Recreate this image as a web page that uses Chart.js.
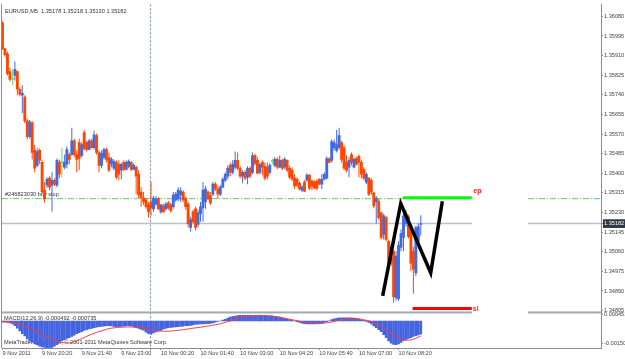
<!DOCTYPE html>
<html lang="en">
  <head>
    <meta charset="UTF-8" />
    <title>EURUSD,M5</title>
    <style>
      body {
        margin: 0;
        background-color: #ffffff;
      }
      .chart-container {
        position: relative;
        width: 625px;
        height: 359px;
      }
    </style>
  </head>
  <body>
    <div class="chart-container">
      <canvas id="priceChart"></canvas>
    </div>
    <script src="https://cdn.jsdelivr.net/npm/chart.js"></script>
    <script>
      // EURUSD M5 candles, one entry per bar (left to right)
      const opens = [1.36051,1.35939,1.35918,1.35841,1.35807,1.35824,1.35841,1.35764,1.35738,1.35730,
        1.35627,1.35559,1.35618,1.35499,1.35434,1.35499,1.35447,1.35327,1.35349,1.35379,
        1.35349,1.35370,1.35349,1.35447,1.35447,1.35426,1.35439,1.35481,1.35481,1.35541,
        1.35481,1.35533,1.35477,1.35576,1.35533,1.35503,1.35541,1.35511,1.35563,1.35490,
        1.35434,1.35469,1.35503,1.35469,1.35439,1.35422,1.35447,1.35439,1.35413,1.35447,
        1.35417,1.35430,1.35447,1.35417,1.35426,1.35396,1.35319,1.35293,1.35285,1.35263,
        1.35276,1.35246,1.35267,1.35289,1.35233,1.35259,1.35246,1.35272,1.35263,1.35255,
        1.35285,1.35289,1.35306,1.35319,1.35293,1.35267,1.35165,1.35233,1.35246,1.35178,
        1.35225,1.35250,1.35276,1.35319,1.35302,1.35310,1.35353,1.35332,1.35310,1.35340,
        1.35370,1.35387,1.35434,1.35404,1.35426,1.35456,1.35422,1.35387,1.35404,1.35383,
        1.35422,1.35404,1.35477,1.35456,1.35404,1.35447,1.35430,1.35426,1.35404,1.35452,
        1.35434,1.35460,1.35426,1.35456,1.35426,1.35456,1.35422,1.35413,1.35379,1.35374,
        1.35357,1.35327,1.35362,1.35370,1.35392,1.35366,1.35362,1.35366,1.35374,1.35353,
        1.35374,1.35379,1.35464,1.35456,1.35511,1.35499,1.35511,1.35533,1.35511,1.35447,
        1.35426,1.35481,1.35426,1.35464,1.35473,1.35447,1.35417,1.35362,1.35379,1.35370,
        1.35315,1.35276,1.35280,1.35229,1.35135,1.35208,1.35105,1.35011,1.35062,1.34861,
        1.34857,1.35079,1.35122,1.35182,1.35212,1.35173,1.35062,1.34968,1.35105,1.35178];
      const highs = [1.36059,1.35944,1.35927,1.35858,1.35850,1.35884,1.35845,1.35773,1.35781,1.35738,
        1.35636,1.35631,1.35627,1.35524,1.35511,1.35507,1.35456,1.35362,1.35383,1.35387,
        1.35404,1.35379,1.35464,1.35460,1.35511,1.35481,1.35516,1.35490,1.35597,1.35550,
        1.35499,1.35550,1.35533,1.35588,1.35541,1.35550,1.35550,1.35584,1.35571,1.35499,
        1.35499,1.35511,1.35511,1.35490,1.35469,1.35460,1.35456,1.35456,1.35447,1.35456,
        1.35456,1.35460,1.35452,1.35443,1.35434,1.35413,1.35340,1.35319,1.35293,1.35276,
        1.35362,1.35302,1.35302,1.35297,1.35267,1.35267,1.35276,1.35280,1.35272,1.35319,
        1.35319,1.35340,1.35340,1.35327,1.35297,1.35276,1.35212,1.35242,1.35255,1.35242,
        1.35276,1.35362,1.35345,1.35327,1.35319,1.35362,1.35362,1.35345,1.35349,1.35383,
        1.35404,1.35434,1.35447,1.35456,1.35494,1.35490,1.35430,1.35413,1.35413,1.35430,
        1.35430,1.35490,1.35486,1.35469,1.35447,1.35456,1.35447,1.35447,1.35443,1.35464,
        1.35469,1.35469,1.35477,1.35464,1.35469,1.35460,1.35434,1.35426,1.35396,1.35383,
        1.35366,1.35349,1.35370,1.35400,1.35396,1.35374,1.35370,1.35374,1.35379,1.35396,
        1.35404,1.35473,1.35469,1.35546,1.35546,1.35588,1.35597,1.35541,1.35520,1.35477,
        1.35469,1.35490,1.35469,1.35473,1.35481,1.35456,1.35426,1.35404,1.35383,1.35379,
        1.35319,1.35302,1.35289,1.35233,1.35225,1.35216,1.35113,1.35096,1.35071,1.35062,
        1.35105,1.35156,1.35233,1.35242,1.35220,1.35182,1.35083,1.35173,1.35182,1.35218];
      const lows = [1.35935,1.35905,1.35824,1.35798,1.35781,1.35802,1.35738,1.35734,1.35661,1.35618,
        1.35546,1.35550,1.35460,1.35404,1.35426,1.35439,1.35310,1.35272,1.35336,1.35327,
        1.35233,1.35345,1.35340,1.35379,1.35383,1.35417,1.35422,1.35439,1.35477,1.35469,
        1.35404,1.35413,1.35469,1.35499,1.35494,1.35499,1.35507,1.35503,1.35481,1.35404,
        1.35422,1.35460,1.35447,1.35404,1.35426,1.35413,1.35374,1.35370,1.35374,1.35409,
        1.35413,1.35422,1.35409,1.35413,1.35310,1.35293,1.35255,1.35263,1.35246,1.35208,
        1.35216,1.35233,1.35259,1.35242,1.35225,1.35229,1.35238,1.35242,1.35229,1.35246,
        1.35276,1.35280,1.35276,1.35276,1.35242,1.35165,1.35148,1.35182,1.35152,1.35165,
        1.35190,1.35190,1.35246,1.35285,1.35263,1.35302,1.35323,1.35289,1.35302,1.35336,
        1.35362,1.35374,1.35387,1.35396,1.35417,1.35413,1.35379,1.35357,1.35370,1.35353,
        1.35379,1.35396,1.35434,1.35396,1.35396,1.35392,1.35370,1.35374,1.35396,1.35439,
        1.35426,1.35417,1.35422,1.35413,1.35417,1.35404,1.35374,1.35366,1.35332,1.35340,
        1.35327,1.35319,1.35319,1.35362,1.35327,1.35327,1.35332,1.35327,1.35349,1.35332,
        1.35370,1.35374,1.35443,1.35447,1.35499,1.35490,1.35503,1.35447,1.35413,1.35404,
        1.35383,1.35434,1.35422,1.35434,1.35383,1.35379,1.35370,1.35353,1.35302,1.35306,
        1.35250,1.35182,1.35199,1.35113,1.35113,1.35105,1.35002,1.34998,1.34839,1.34848,
        1.34848,1.35062,1.35062,1.35169,1.35118,1.34976,1.34878,1.34955,1.35088,1.35130];
      const closes = [1.35939,1.35914,1.35832,1.35807,1.35807,1.35850,1.35764,1.35743,1.35747,1.35627,
        1.35559,1.35623,1.35490,1.35422,1.35494,1.35456,1.35319,1.35289,1.35374,1.35340,
        1.35370,1.35353,1.35456,1.35396,1.35447,1.35447,1.35503,1.35460,1.35541,1.35481,
        1.35460,1.35464,1.35524,1.35507,1.35503,1.35541,1.35511,1.35567,1.35490,1.35434,
        1.35486,1.35503,1.35460,1.35413,1.35460,1.35452,1.35383,1.35396,1.35439,1.35417,
        1.35447,1.35452,1.35417,1.35434,1.35387,1.35306,1.35293,1.35276,1.35255,1.35233,
        1.35250,1.35293,1.35289,1.35246,1.35263,1.35233,1.35267,1.35250,1.35238,1.35306,
        1.35310,1.35327,1.35323,1.35285,1.35255,1.35182,1.35199,1.35190,1.35165,1.35229,
        1.35255,1.35327,1.35332,1.35289,1.35272,1.35353,1.35332,1.35310,1.35340,1.35374,
        1.35396,1.35422,1.35404,1.35439,1.35456,1.35422,1.35387,1.35404,1.35379,1.35422,
        1.35387,1.35477,1.35443,1.35400,1.35439,1.35426,1.35379,1.35387,1.35434,1.35452,
        1.35460,1.35426,1.35456,1.35422,1.35460,1.35413,1.35383,1.35374,1.35345,1.35349,
        1.35332,1.35340,1.35323,1.35392,1.35336,1.35345,1.35336,1.35336,1.35353,1.35374,
        1.35396,1.35464,1.35447,1.35537,1.35533,1.35524,1.35563,1.35460,1.35422,1.35413,
        1.35456,1.35447,1.35460,1.35439,1.35447,1.35396,1.35379,1.35396,1.35310,1.35319,
        1.35259,1.35293,1.35208,1.35122,1.35216,1.35113,1.35011,1.35083,1.34865,1.35041,
        1.35088,1.35139,1.35216,1.35225,1.35126,1.35011,1.34985,1.35165,1.35169,1.35182];

      // MACD(12,26,9): main (histogram) and signal
      const macdMain = [-0.00008,-0.00008,-0.00009,-0.00012,-0.0002,-0.00032,-0.00048,-0.00066,-0.00085,-0.001,
        -0.0012,-0.00136,-0.00145,-0.00155,-0.00162,-0.0017,-0.00175,-0.00178,-0.0018,-0.0018,
        -0.00178,-0.0017,-0.0016,-0.00147,-0.00135,-0.00125,-0.00118,-0.00113,-0.00104,-0.00095,
        -0.00086,-0.00078,-0.00072,-0.00064,-0.00058,-0.00054,-0.0005,-0.00045,-0.00041,-0.00038,
        -0.00036,-0.00034,-0.00032,-0.00031,-0.00033,-0.00036,-0.00038,-0.00038,-0.00036,-0.00034,
        -0.00032,-0.00031,-0.00033,-0.00038,-0.00044,-0.0005,-0.00056,-0.00062,-0.00075,-0.00086,
        -0.00089,-0.0008,-0.00074,-0.00068,-0.00063,-0.00055,-0.0005,-0.00045,-0.00043,-0.00042,
        -0.0004,-0.00038,-0.00036,-0.00034,-0.00032,-0.00031,-0.0003,-0.00026,-0.00023,-0.00021,
        -0.0002,-0.00019,-0.00018,-0.00017,-0.00016,-0.00012,-0.00008,-0.00003,0,0.00006,
        0.00012,0.0002,0.00026,0.0003,0.00034,0.00037,0.00038,0.00038,0.00039,0.00038,
        0.00038,0.00039,0.00038,0.00037,0.00037,0.00036,0.00035,0.00035,0.00034,0.00033,
        0.00031,0.00029,0.00026,0.00022,0.00018,0.00014,0.0001,0.00005,0,-0.00005,
        -0.0001,-0.00014,-0.00017,-0.00019,-0.0002,-0.0002,-0.0002,-0.00018,-0.00016,-0.00014,
        -0.0001,-0.00005,0.00002,0.0001,0.00015,0.00019,0.00022,0.00022,0.00022,0.00021,
        0.00022,0.00021,0.0002,0.00018,0.00014,0.00009,0.00004,-0.00003,-0.0001,-0.0002,
        -0.00033,-0.00045,-0.00058,-0.00072,-0.00092,-0.00112,-0.00135,-0.0015,-0.00158,-0.0016,
        -0.00155,-0.00145,-0.00133,-0.00125,-0.00118,-0.00112,-0.00104,-0.00098,-0.00094,-0.00088];
      const macdSignal = [-0.00002,-0.00003,-0.00005,-0.00008,-0.00011,-0.00015,-0.00019,-0.00023,-0.00028,-0.00034,
        -0.0004,-0.00046,-0.00054,-0.00062,-0.00072,-0.0008,-0.00089,-0.00098,-0.00107,-0.00115,
        -0.00122,-0.00129,-0.00135,-0.0014,-0.00144,-0.00147,-0.00148,-0.00148,-0.00145,-0.0014,
        -0.00133,-0.00125,-0.00118,-0.00111,-0.00104,-0.00096,-0.00089,-0.00083,-0.00077,-0.00071,
        -0.00066,-0.00061,-0.00056,-0.00051,-0.00048,-0.00046,-0.00044,-0.00042,-0.00042,-0.00041,
        -0.0004,-0.0004,-0.0004,-0.00041,-0.00042,-0.00043,-0.00045,-0.00048,-0.00051,-0.00054,
        -0.00057,-0.0006,-0.00063,-0.00066,-0.00068,-0.00069,-0.00069,-0.00068,-0.00067,-0.00066,
        -0.00064,-0.00063,-0.00061,-0.00058,-0.00056,-0.00053,-0.00051,-0.00048,-0.00046,-0.00044,
        -0.00042,-0.00039,-0.00036,-0.00034,-0.00031,-0.00028,-0.00025,-0.00022,-0.00019,-0.00014,
        -0.00009,-0.00004,0.00001,0.00007,0.00013,0.00019,0.00024,0.00027,0.0003,0.00032,
        0.00033,0.00035,0.00036,0.00037,0.00038,0.00037,0.00037,0.00036,0.00035,0.00033,
        0.00031,0.00028,0.00026,0.00022,0.00019,0.00016,0.00012,0.00009,0.00006,0.00002,
        -0.00001,-0.00004,-0.00007,-0.0001,-0.00012,-0.00014,-0.00016,-0.00017,-0.00018,-0.00016,
        -0.00014,-0.00012,-0.0001,-0.00006,-0.00002,0.00002,0.00005,0.00007,0.00009,0.00011,
        0.00013,0.00014,0.00014,0.00015,0.00015,0.00012,0.00008,0.00005,0.00002,-0.00004,
        -0.00012,-0.0002,-0.00028,-0.00036,-0.00046,-0.00057,-0.0007,-0.0008,-0.00092,-0.00103,
        -0.00113,-0.00122,-0.00128,-0.00129,-0.00129,-0.00127,-0.00122,-0.00116,-0.00108,-0.00101];

      // axis labels
      const timeLabels = ["9 Nov 2011", "9 Nov 20:20", "9 Nov 21:40", "9 Nov 23:00",
        "10 Nov 00:20", "10 Nov 01:40", "10 Nov 03:00", "10 Nov 04:20",
        "10 Nov 05:40", "10 Nov 07:00", "10 Nov 08:20"];
      const barsPerLabel = 16;
      const priceTicks = [1.34805, 1.3489, 1.34975, 1.3506, 1.35145, 1.3523, 1.35315, 1.354,
        1.35485, 1.3557, 1.35655, 1.3574, 1.35825, 1.3591, 1.35995, 1.3608];
      const macdTicks = [-0.0015, 0, 0.000451];
      const macdTickLabels = ["-0.00150", "0.00", "0.000451"];

      // objects on the chart (bar index / price)
      const bidPrice = 1.35182;
      const buyStopPrice = 1.3529;
      const epPrice = 1.35294;
      const slPrice = 1.34814;
      const epBars = [161.8, 189.6];
      const slBars = [165.7, 189.6];
      const zigzagBars = [153.6, 160.9, 173.0, 177.7];
      const zigzagPrices = [1.34869, 1.35269, 1.34969, 1.35279];
      const gapBars = [189.7, 212.3];
      const daySeparatorBar = 59.6;
      const xMin = -0.2;
      const xMax = 241.8;

      const headerText = "EURUSD,M5  1.35178 1.35218 1.35130 1.35182";
      const orderText = "#246823030 buy stop";
      const macdText = "MACD(12,26,9) -0.000492 -0.000735";
      const copyrightText = "MetaTrader - Alpari UK, \u00a9 2001-2011 MetaQuotes Software Corp.";

      const bullColor = "#4169e1";
      const bearColor = "#ff4500";
      const dojiColor = "#66dd66";
      const axisColor = "#8c8c8c";
      const textColor = "#444444";
      const smallFont = { family: "Liberation Sans", size: 5.6 };

      const barIndex = opens.map((_, i) => i);
      const candleColors = opens.map((o, i) =>
        closes[i] > o ? bullColor : closes[i] < o ? bearColor : dojiColor
      );

      function brokenLine(price) {
        return [
          { x: xMin, y: price },
          { x: gapBars[0], y: price },
          { x: gapBars[0], y: null },
          { x: gapBars[1], y: price },
          { x: xMax, y: price },
        ];
      }

      const overlay = {
        id: "overlay",
        beforeDatasetsDraw(chart) {
          const { ctx, chartArea, scales } = chart;
          ctx.save();
          // day separator
          const sx = Math.round(scales.x.getPixelForValue(daySeparatorBar)) + 0.5;
          ctx.strokeStyle = "#7d8896";
          ctx.lineWidth = 1;
          ctx.setLineDash([2, 2]);
          ctx.beginPath();
          ctx.moveTo(sx, chartArea.top);
          ctx.lineTo(sx, chartArea.bottom + 3);
          ctx.stroke();
          ctx.setLineDash([]);

          ctx.font = '5.6px "Liberation Sans"';
          ctx.fillStyle = "#333333";
          ctx.textBaseline = "middle";
          ctx.fillText(headerText, chartArea.left + 3, chartArea.top + 7);
          ctx.fillText(orderText, chartArea.left + 3, scales.y.getPixelForValue(buyStopPrice) - 4);
          ctx.fillText(macdText, chartArea.left + 2, scales.yM.top + 6);
          ctx.fillText(copyrightText, chartArea.left + 2, scales.yM.bottom - 5.5);
          ctx.restore();
        },
        afterDatasetsDraw(chart) {
          const { ctx, chartArea, scales } = chart;
          ctx.save();
          // pane separator, broken where the chart is covered
          const sepY = scales.y.bottom - 1;
          const gx0 = scales.x.getPixelForValue(gapBars[0]);
          const gx1 = scales.x.getPixelForValue(gapBars[1]);
          ctx.fillStyle = "#a4a8b0";
          ctx.fillRect(chartArea.left, sepY, gx0 - chartArea.left, 2);
          ctx.fillRect(gx1, sepY, chartArea.right - gx1, 2);
          // left frame
          ctx.fillStyle = axisColor;
          ctx.fillRect(chartArea.left - 1, chartArea.top, 1, chartArea.bottom - chartArea.top);
          // ep / sl labels
          ctx.font = 'bold 7px "Liberation Sans"';
          ctx.fillStyle = "#ff2020";
          ctx.textBaseline = "middle";
          ctx.fillText("ep", scales.x.getPixelForValue(epBars[1]) + 1.5, scales.y.getPixelForValue(epPrice) - 6.5);
          ctx.fillText("sl", scales.x.getPixelForValue(slBars[1]) + 1, scales.y.getPixelForValue(slPrice) + 1);
          ctx.restore();
        },
      };

      const config = {
        type: "bar",
        data: {
          labels: barIndex,
          datasets: [
            {
              type: "line",
              data: zigzagBars.map((b, i) => ({ x: b, y: zigzagPrices[i] })),
              yAxisID: "y",
              borderColor: "#000000",
              borderWidth: 3.5,
              pointRadius: 0,
              order: 0,
            },
            {
              type: "line",
              data: epBars.map((b) => ({ x: b, y: epPrice })),
              yAxisID: "y",
              borderColor: "#00ff00",
              borderWidth: 3,
              pointRadius: 0,
              order: 1,
            },
            {
              type: "line",
              data: slBars.map((b) => ({ x: b, y: slPrice })),
              yAxisID: "y",
              borderColor: "#ff0000",
              borderWidth: 3,
              pointRadius: 0,
              order: 1,
            },
            {
              label: "bodies",
              data: barIndex.map((i) => [opens[i], closes[i]]),
              yAxisID: "y",
              backgroundColor: candleColors,
              barThickness: 2.2,
              minBarLength: 1,
              grouped: false,
              order: 3,
            },
            {
              label: "wicks",
              data: barIndex.map((i) => [lows[i], highs[i]]),
              yAxisID: "y",
              backgroundColor: candleColors,
              barThickness: 1,
              inflateAmount: 0,
              grouped: false,
              order: 4,
            },
            {
              type: "line",
              data: brokenLine(bidPrice),
              yAxisID: "y",
              borderColor: "#bcc0c8",
              borderWidth: 1.5,
              pointRadius: 0,
              spanGaps: false,
              order: 5,
            },
            {
              type: "line",
              data: brokenLine(buyStopPrice),
              yAxisID: "y",
              borderColor: "#55d455",
              borderWidth: 1,
              borderDash: [6, 2, 1, 2],
              pointRadius: 0,
              spanGaps: false,
              order: 5,
            },
            {
              type: "line",
              data: macdSignal,
              yAxisID: "yM",
              borderColor: "#ff3a3a",
              borderWidth: 1,
              pointRadius: 0,
              order: 2,
            },
            {
              label: "MACD",
              data: macdMain,
              yAxisID: "yM",
              backgroundColor: "#4463e0",
              barThickness: 2,
              grouped: false,
              order: 3,
            },
          ],
        },
        options: {
          responsive: true,
          maintainAspectRatio: false,
          animation: false,
          events: [],
          layout: { padding: { left: 2, top: 0, right: 0, bottom: 0 } },
          plugins: { legend: { display: false }, tooltip: { enabled: false } },
          scales: {
            x: {
              type: "linear",
              offset: false,
              min: xMin,
              max: xMax,
              afterBuildTicks: (scale) => {
                scale.ticks = timeLabels.map((_, i) => ({ value: i * barsPerLabel }));
              },
              afterFit: (scale) => {
                scale.height = 11;
              },
              ticks: {
                autoSkip: false,
                maxRotation: 0,
                align: "start",
                padding: 0,
                font: smallFont,
                color: textColor,
                callback: (v) => timeLabels[v / barsPerLabel],
              },
              grid: { offset: false, drawOnChartArea: false, tickLength: 2, color: axisColor },
              border: { color: axisColor },
            },
            y: {
              type: "linear",
              position: "right",
              stack: "panes",
              stackWeight: 312,
              min: 1.34797,
              max: 1.36132,
              afterBuildTicks: (scale) => {
                scale.ticks = priceTicks.concat([bidPrice]).map((v) => ({ value: v }));
              },
              afterFit: (scale) => {
                scale.width = 24;
              },
              ticks: {
                font: smallFont,
                padding: 1,
                color: (ctx) => (ctx.tick && ctx.tick.value === bidPrice ? "#ffffff" : textColor),
                showLabelBackdrop: true,
                backdropColor: (ctx) =>
                  ctx.tick && ctx.tick.value === bidPrice ? "#2e3a48" : "rgba(0,0,0,0)",
                backdropPadding: { top: 1, bottom: 1, left: 1, right: 4 },
                callback: (v) => v.toFixed(5),
              },
              grid: { drawOnChartArea: false, tickLength: 2, color: axisColor },
              border: { color: axisColor },
            },
            yM: {
              type: "linear",
              position: "right",
              stack: "panes",
              stackWeight: 36,
              min: -0.00182,
              max: 0.00058,
              afterBuildTicks: (scale) => {
                scale.ticks = macdTicks.map((v) => ({ value: v }));
              },
              afterFit: (scale) => {
                scale.width = 24;
              },
              ticks: {
                font: smallFont,
                padding: 1,
                color: textColor,
                callback: (v) => macdTickLabels[macdTicks.indexOf(v)],
              },
              grid: { drawOnChartArea: false, tickLength: 2, color: axisColor },
              border: { color: axisColor },
            },
          },
        },
        plugins: [overlay],
      };

      const priceChart = new Chart(document.getElementById("priceChart"), config);
    </script>
  </body>
</html>
